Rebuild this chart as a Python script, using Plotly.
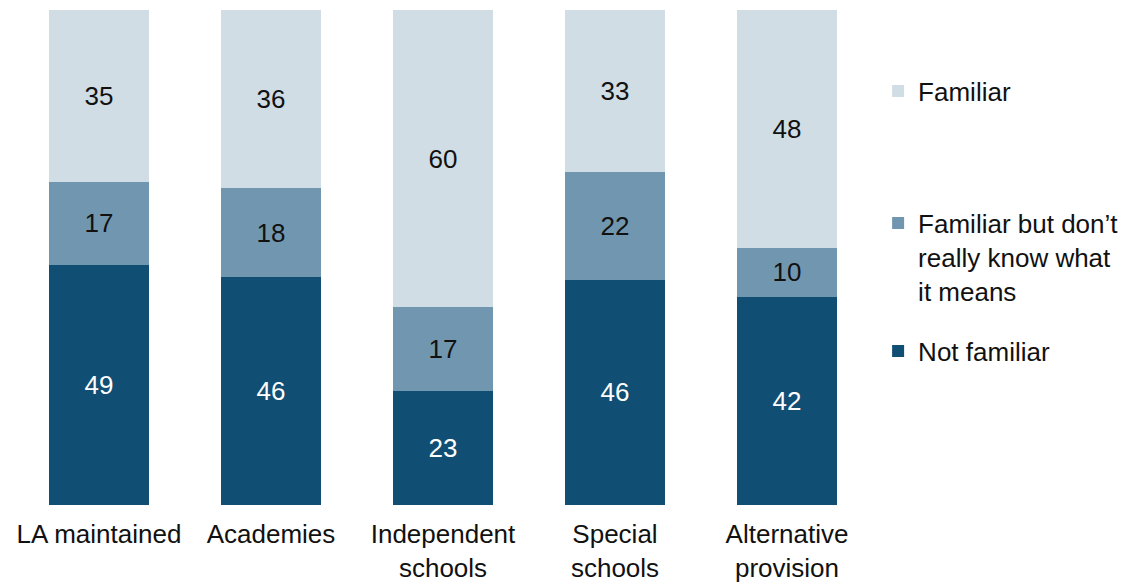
import plotly.graph_objects as go

categories = ["LA maintained", "Academies", "Independent<br>schools", "Special<br>schools", "Alternative<br>provision"]
not_familiar = [49, 46, 23, 46, 42]
familiar_unsure = [17, 18, 17, 22, 10]
familiar = [35, 36, 60, 33, 48]

FONT = "Liberation Sans, Arial, sans-serif"
C_DARK = "#104E74"
C_MID = "#7197B0"
C_LIGHT = "#D0DDE5"

fig = go.Figure()
series = [
    ("Not familiar", not_familiar, C_DARK, "white", "legend3"),
    ("Familiar but don’t<br>really know what<br>it means", familiar_unsure, C_MID, "#111111", "legend2"),
    ("Familiar", familiar, C_LIGHT, "#111111", "legend"),
]
for name, vals, col, tcol, leg in series:
    fig.add_trace(go.Bar(
        x=categories, y=vals, name=name, marker=dict(color=col, line=dict(width=0)),
        text=vals, textposition="inside", insidetextanchor="middle", textangle=0,
        textfont=dict(family=FONT, size=26, color=tcol),
        legend=leg, hoverinfo="skip", showlegend=True,
    ))

legend_common = dict(font=dict(family=FONT, size=26, color="#111111"),
                     xref="container", yref="container", x=0.7764, xanchor="left",
                     bgcolor="rgba(0,0,0,0)", borderwidth=0)

fig.update_layout(
    showlegend=True,
    barmode="stack", barnorm="percent", bargap=0.42,
    width=1131, height=583,
    margin=dict(l=13, r=258, t=10, b=78, autoexpand=False),
    paper_bgcolor="white", plot_bgcolor="white",
    font=dict(family=FONT, size=26, color="#111111"),
    xaxis=dict(showgrid=False, showline=False, zeroline=False, ticks="", automargin=False,
               tickfont=dict(family=FONT, size=26, color="#111111"), ticklabelstandoff=11),
    yaxis=dict(visible=False, range=[0, 100], automargin=False),
    legend=dict(**legend_common, y=1 - 91 / 583, yanchor="middle"),
    legend2=dict(**legend_common, y=1 - 257 / 583, yanchor="middle", valign="top"),
    legend3=dict(**legend_common, y=1 - 351 / 583, yanchor="middle"),
    uniformtext=dict(minsize=26, mode="show"),
)

fig.write_html("out.html", config={"displayModeBar": False},
               post_script="document.body.style.margin='0px';")
